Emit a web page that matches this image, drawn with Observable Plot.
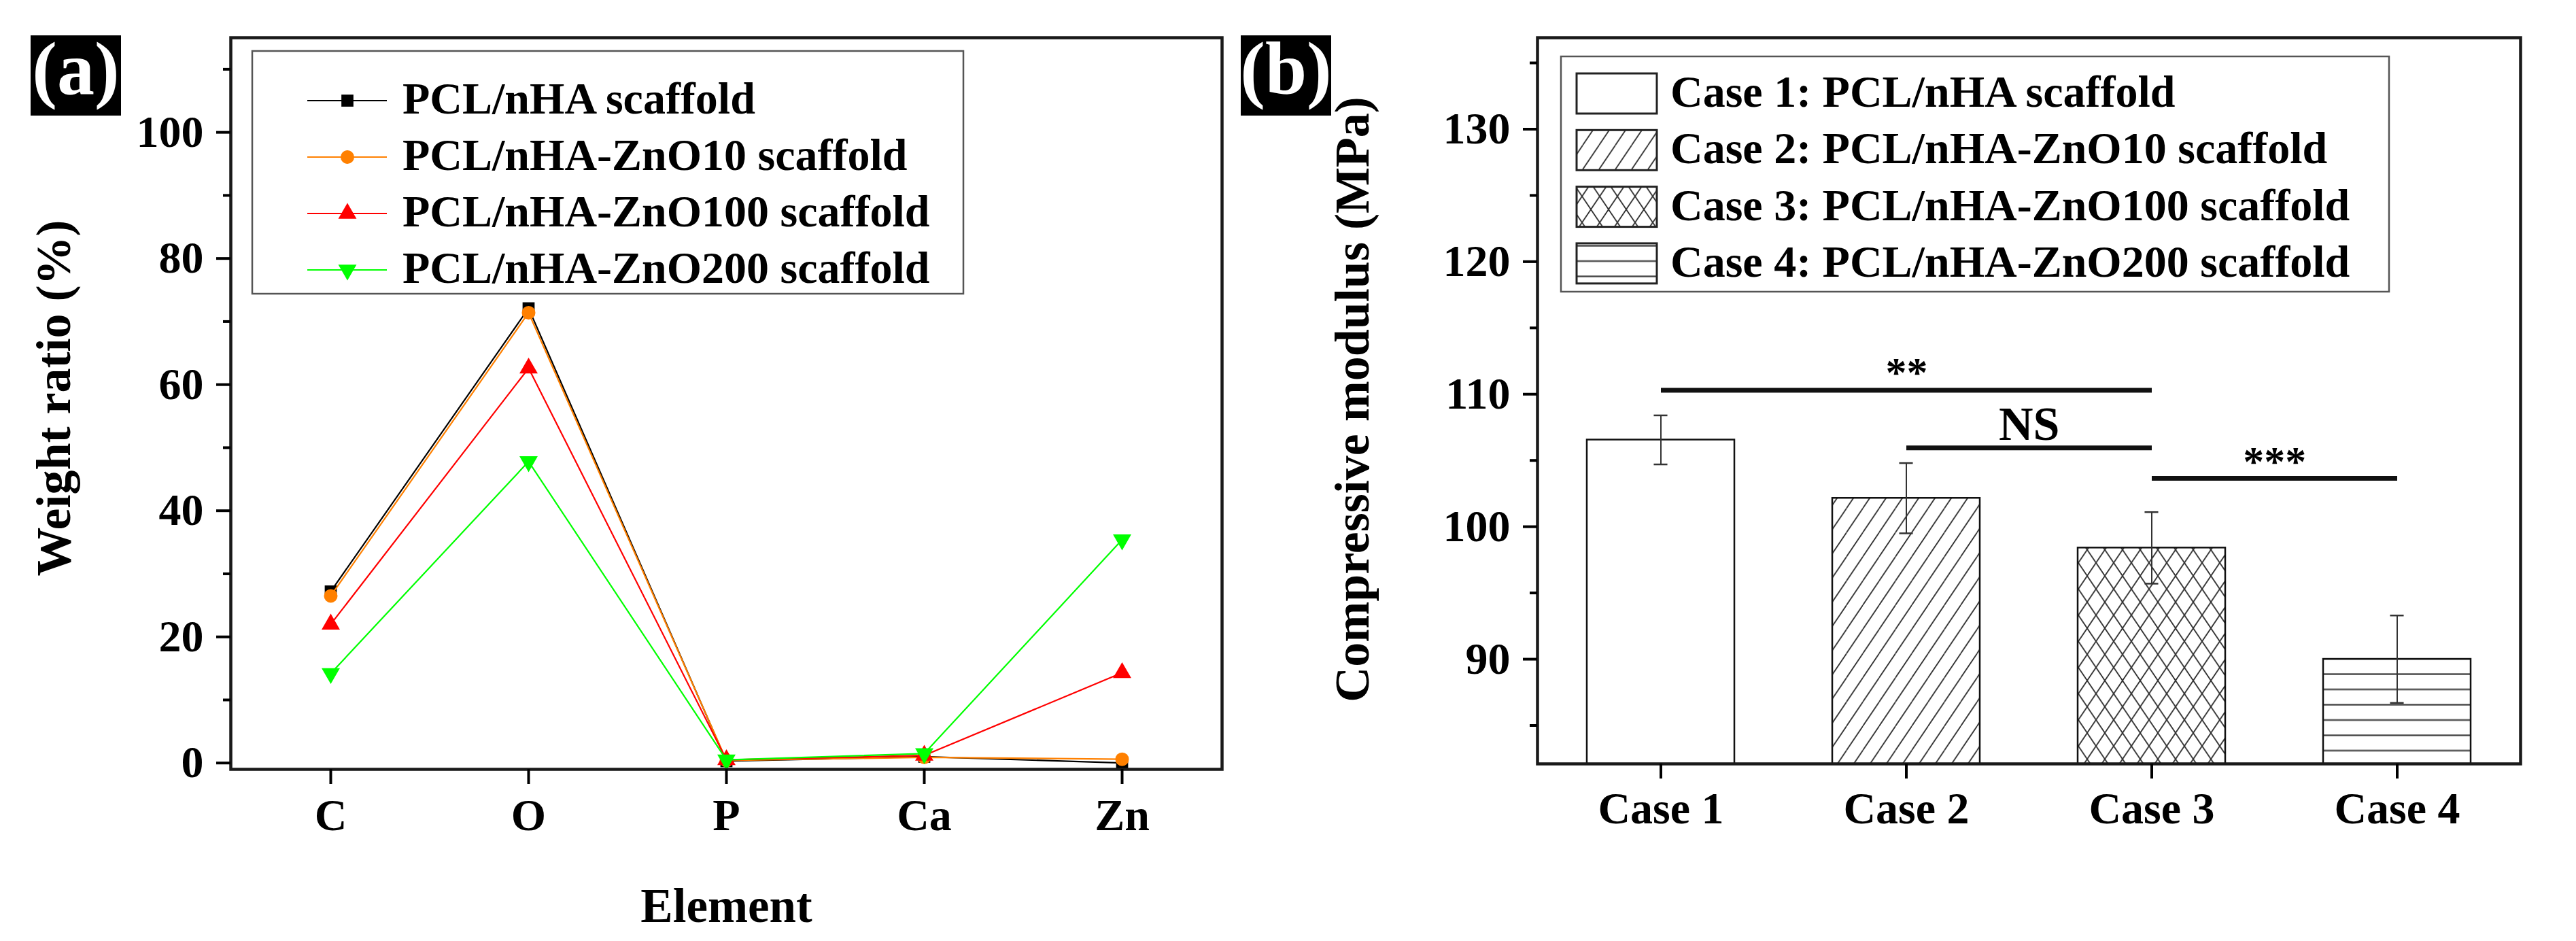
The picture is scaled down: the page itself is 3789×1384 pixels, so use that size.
<!DOCTYPE html>
<html>
<head>
<meta charset="utf-8">
<script src="https://cdn.jsdelivr.net/npm/d3@7"></script>
<script src="https://cdn.jsdelivr.net/npm/@observablehq/plot@0.6"></script>
<style>
html, body { margin: 0; padding: 0; background: #fff; }
#root { position: relative; width: 3789px; height: 1384px; overflow: hidden; background: #fff; }
.panel { position: absolute; top: 0; }
.panel svg { overflow: visible; }
</style>
</head>
<body>
<svg id="defs" width="0" height="0" style="position:absolute;left:0;top:0">
  <defs>
    <pattern id="hatchDiag" patternUnits="userSpaceOnUse" width="24" height="35.6">
      <rect width="24" height="35.6" fill="#fff"/>
      <path d="M0,35.6L24,0M-24,35.6L0,0M24,35.6L48,0" stroke="#333" stroke-width="1.8" fill="none"/>
    </pattern>
    <pattern id="hatchCross" patternUnits="userSpaceOnUse" width="26" height="38.5">
      <rect width="26" height="38.5" fill="#fff"/>
      <path d="M0,38.5L26,0M-26,38.5L0,0M26,38.5L52,0M0,0L26,38.5M-26,0L0,38.5M26,0L52,38.5" stroke="#333" stroke-width="1.8" fill="none"/>
    </pattern>
    <pattern id="hatchHoriz" patternUnits="userSpaceOnUse" width="20" height="22.5">
      <rect width="20" height="22.5" fill="#fff"/>
      <path d="M-1,1.5H21" stroke="#444" stroke-width="2.4" fill="none"/>
    </pattern>
  </defs>
</svg>
<div id="root"></div>
<script>
// ---------- Data: panel (a) ----------
const elements = ["C", "O", "P", "Ca", "Zn"];
const seriesA = ["PCL/nHA scaffold", "PCL/nHA-ZnO10 scaffold", "PCL/nHA-ZnO100 scaffold", "PCL/nHA-ZnO200 scaffold"];
const weightPCL    = [27.2, 72.1, 0.3, 1.0, 0.0];
const weightZnO10  = [26.5, 71.4, 0.4, 0.9, 0.6];
const weightZnO100 = [22.0, 62.6, 0.5, 1.2, 14.3];
const weightZnO200 = [14.2, 47.8, 0.5, 1.5, 35.4];
const yTicksA = [0, 20, 40, 60, 80, 100];
const yMinorA = [10, 30, 50, 70, 90, 110];

// ---------- Data: panel (b) ----------
const cases = ["Case 1", "Case 2", "Case 3", "Case 4"];
const caseLegend = ["Case 1: PCL/nHA scaffold", "Case 2: PCL/nHA-ZnO10 scaffold", "Case 3: PCL/nHA-ZnO100 scaffold", "Case 4: PCL/nHA-ZnO200 scaffold"];
const modulus    = [106.55, 102.15, 98.4, 90.0];
const modulusErr = [1.85, 2.65, 2.7, 3.3];
const yTicksB = [90, 100, 110, 120, 130];
const yMinorB = [85, 95, 105, 115, 125, 135];
const bracketFrom  = ["Case 1", "Case 2", "Case 3"];
const bracketTo    = ["Case 3", "Case 3", "Case 4"];
const bracketY     = [110.3, 105.95, 103.65];
const bracketLabel = ["**", "NS", "***"];

// ---------- Styles ----------
const font = "'Liberation Serif', 'Times New Roman', serif";
const colorsA = ["#000000", "#FF8000", "#FF0000", "#00FF00"];
const triDown = {
  draw(ctx, size) {
    const y = Math.sqrt(size / (Math.sqrt(3) * 3));
    ctx.moveTo(0, y * 2);
    ctx.lineTo(-Math.sqrt(3) * y, -y);
    ctx.lineTo(Math.sqrt(3) * y, -y);
    ctx.closePath();
  }
};
const symbolsA = [d3.symbolSquare, d3.symbolCircle, d3.symbolTriangle, triDown];
const patternsB = ["#ffffff", "url(#hatchDiag)", "url(#hatchCross)", "url(#hatchHoriz)"];
const bracketFont = [62, 70, 62];
const bracketDy = [-6, -12, -5];

const W = 3789, H = 1384;
const root = d3.select("#root");
const baseStyle = {fontFamily: font, fontWeight: "bold", fontSize: "66px", color: "#000", background: "transparent", overflow: "visible"};

// ---------- Panel (a) ----------
const A = {left: 0, width: 1900, mL: 339, mR: 103, mT: 55, mB: 253};
const valuesA = [weightPCL, weightZnO10, weightZnO100, weightZnO200];
const dataA = seriesA.flatMap((s, si) => elements.map((e, ei) => ({series: s, element: e, value: valuesA[si][ei]})));

const plotA = Plot.plot({
  width: A.width, height: H,
  marginLeft: A.mL, marginRight: A.mR, marginTop: A.mT, marginBottom: A.mB,
  style: baseStyle,
  x: {type: "point", domain: elements, padding: 0.5},
  y: {domain: [-1, 115]},
  marks: [
    ...seriesA.flatMap((s, i) => [
      Plot.line(dataA, {filter: d => d.series === s, x: "element", y: "value", stroke: colorsA[i], strokeWidth: 2.2}),
      Plot.dot(dataA, {filter: d => d.series === s, x: "element", y: "value", symbol: symbolsA[i], r: 10, fill: colorsA[i], stroke: "none"})
    ]),
    Plot.frame({stroke: "#1a1a1a", strokeWidth: 4.5}),
    Plot.axisY({ticks: yTicksA, tickSize: 21, tickPadding: 19, strokeWidth: 4, label: null}),
    Plot.axisY({ticks: yMinorA, tickSize: 11, tickFormat: () => "", strokeWidth: 4, label: null}),
    Plot.axisX({tickSize: 22, tickPadding: 21, strokeWidth: 4, label: null}),
    Plot.text(["Weight ratio (%)"], {frameAnchor: "left", textAnchor: "middle", dx: -237, dy: -8, rotate: -90, lineAnchor: "bottom", fontSize: 72, text: d => d}),
    Plot.text(["Element"], {frameAnchor: "bottom", textAnchor: "middle", dy: 224, lineAnchor: "bottom", fontSize: 71, text: d => d})
  ]
});
root.append("div").attr("class", "panel").style("left", A.left + "px").style("width", A.width + "px").node().appendChild(plotA);

// ---------- Panel (b) ----------
const B = {left: 1900, width: 1889, mL: 361, mR: 82, mT: 55, mB: 261};
const padInner = 0.4, padOuter = 0.2;
const stepB = (B.width - B.mL - B.mR) / (cases.length - padInner + 2 * padOuter);
const bwB = stepB * (1 - padInner);
const capW = 20;
const dataB = cases.map((c, i) => ({case: c, value: modulus[i], err: modulusErr[i]}));
const bracketData = bracketLabel.map((l, i) => ({from: bracketFrom[i], to: bracketTo[i], y: bracketY[i], label: l}));

const plotB = Plot.plot({
  width: B.width, height: H,
  marginLeft: B.mL, marginRight: B.mR, marginTop: B.mT, marginBottom: B.mB,
  style: baseStyle,
  x: {type: "band", domain: cases, paddingInner: padInner, paddingOuter: padOuter},
  y: {domain: [82.1, 136.9]},
  color: {domain: cases, range: patternsB},
  marks: [
    Plot.barY(dataB, {x: "case", y: "value", fill: "case", stroke: "#111", strokeWidth: 2.5, clip: true}),
    Plot.ruleX(dataB, {x: "case", y1: d => d.value - d.err, y2: d => d.value + d.err, stroke: "#333", strokeWidth: 2}),
    Plot.tickY(dataB, {x: "case", y: d => d.value + d.err, insetLeft: (bwB - capW) / 2, insetRight: (bwB - capW) / 2, stroke: "#333", strokeWidth: 2.5}),
    Plot.tickY(dataB, {x: "case", y: d => d.value - d.err, insetLeft: (bwB - capW) / 2, insetRight: (bwB - capW) / 2, stroke: "#333", strokeWidth: 2.5}),
    Plot.link(bracketData, {x1: "from", x2: "to", y1: "y", y2: "y", stroke: "#111", strokeWidth: 7}),
    ...bracketData.map((b, i) => Plot.text([b], {
      x: "from", y: "y", text: "label",
      dx: (cases.indexOf(b.to) - cases.indexOf(b.from)) * stepB / 2,
      dy: bracketDy[i], lineAnchor: "bottom", fontSize: bracketFont[i]
    })),
    Plot.frame({stroke: "#1a1a1a", strokeWidth: 4.5}),
    Plot.axisY({ticks: yTicksB, tickSize: 21, tickPadding: 19, strokeWidth: 4, label: null}),
    Plot.axisY({ticks: yMinorB, tickSize: 11, tickFormat: () => "", strokeWidth: 4, label: null}),
    Plot.axisX({tickSize: 22, tickPadding: 19, strokeWidth: 4, label: null}),
    Plot.text(["Compressive modulus (MPa)"], {frameAnchor: "left", textAnchor: "middle", dx: -249, dy: -2, rotate: -90, lineAnchor: "bottom", fontSize: 72, text: d => d})
  ]
});
root.append("div").attr("class", "panel").style("left", B.left + "px").style("width", B.width + "px").node().appendChild(plotB);

// ---------- Overlay: legends and panel labels ----------
const ov = root.append("svg")
  .attr("width", W).attr("height", H)
  .style("position", "absolute").style("left", 0).style("top", 0)
  .style("font-family", font).style("font-weight", "bold");

// legend (a)
const LA = {x: 371, y: 75, w: 1046, h: 357, row: 83, line0: 148, text0: 167, lx1: 452, lx2: 569, mx: 511, tx: 592};
ov.append("rect").attr("x", LA.x).attr("y", LA.y).attr("width", LA.w).attr("height", LA.h)
  .attr("fill", "#fff").attr("stroke", "#555").attr("stroke-width", 2.5);
seriesA.forEach((s, i) => {
  const yy = LA.line0 + i * LA.row;
  ov.append("line").attr("x1", LA.lx1).attr("x2", LA.lx2).attr("y1", yy).attr("y2", yy)
    .attr("stroke", colorsA[i]).attr("stroke-width", 2.2);
  ov.append("path").attr("transform", `translate(${LA.mx},${yy})`)
    .attr("d", d3.symbol(symbolsA[i], Math.PI * 100)()).attr("fill", colorsA[i]);
  ov.append("text").attr("x", LA.tx).attr("y", LA.text0 + i * LA.row).attr("font-size", 66).text(s);
});

// legend (b)
const LB = {x: 2296, y: 83, w: 1218, h: 346, row: 83.3, sx: 2319, sy0: 108, sw: 118, sh: 59, tx: 2457, text0: 157};
ov.append("rect").attr("x", LB.x).attr("y", LB.y).attr("width", LB.w).attr("height", LB.h)
  .attr("fill", "#fff").attr("stroke", "#555").attr("stroke-width", 2.5);
caseLegend.forEach((s, i) => {
  ov.append("rect").attr("x", LB.sx).attr("y", LB.sy0 + i * LB.row).attr("width", LB.sw).attr("height", LB.sh)
    .attr("fill", patternsB[i]).attr("stroke", "#222").attr("stroke-width", 3);
  ov.append("text").attr("x", LB.tx).attr("y", LB.text0 + i * LB.row).attr("font-size", 66).text(s);
});

// panel labels
[["(a)", 45], ["(b)", 1825]].forEach(([t, x]) => {
  ov.append("rect").attr("x", x).attr("y", 52).attr("width", 133).attr("height", 118).attr("fill", "#000");
  ov.append("text").attr("x", x + 66.5).attr("y", 138).attr("text-anchor", "middle")
    .attr("font-size", 110).attr("fill", "#fff").text(t);
});
</script>
</body>
</html>
